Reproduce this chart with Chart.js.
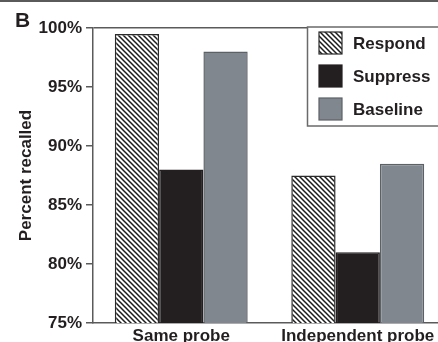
<!DOCTYPE html>
<html>
<head>
<meta charset="utf-8">
<script src="https://cdn.jsdelivr.net/npm/chart.js@4/dist/chart.umd.min.js"></script>
<style>
  html, body { margin: 0; padding: 0; background: #fff; overflow: hidden; }
  #frame { width: 438px; height: 342px; overflow: hidden; box-sizing: border-box; border-top: 2px solid #5a5a5a; }
  #holder { width: 446px; height: 360px; }
</style>
</head>
<body>
<div id="frame"><div id="holder"><canvas id="c" width="446" height="360"></canvas></div></div>
<script>
// Recall rates by probe type and condition
const categories = ['Same probe', 'Independent probe'];
const seriesNames = ['Respond', 'Suppress', 'Baseline'];
const respond = [99.5, 87.5];
const suppress = [88.0, 81.0];
const baseline = [98.0, 88.5];
const yTicks = [75, 80, 85, 90, 95, 100];
const panelLetter = 'B';
const yTitle = 'Percent recalled';

const INK = '#231f20';
const FONT = '"Liberation Sans", Arial, Helvetica, sans-serif';

const canvas = document.getElementById('c');
const ctx = canvas.getContext('2d');

// Diagonal hatch fill for the "Respond" bars
function makeHatch() {
  const s = 5;
  const t = document.createElement('canvas');
  t.width = s; t.height = s;
  const g = t.getContext('2d');
  g.fillStyle = '#ffffff';
  g.fillRect(0, 0, s, s);
  g.strokeStyle = '#1c1c1c';
  g.lineWidth = 1.5;
  g.beginPath();
  g.moveTo(-1, -1); g.lineTo(s + 1, s + 1);
  g.moveTo(-1, s - 1); g.lineTo(1, s + 1);
  g.moveTo(s - 1, -1); g.lineTo(s + 1, 1);
  g.stroke();
  return ctx.createPattern(t, 'repeat');
}

// Boxed legend in the upper right and the panel letter
const decorations = {
  id: 'decorations',
  afterDraw(chart) {
    const c = chart.ctx;
    c.save();
    // panel letter
    c.fillStyle = INK;
    c.font = 'bold 21px ' + FONT;
    c.textAlign = 'left';
    c.textBaseline = 'alphabetic';
    c.fillText(panelLetter, 15, 25);

    // legend box
    const bx = 307.5, by = 25, bw = 160, bh = 99;
    c.fillStyle = '#ffffff';
    c.fillRect(bx, by, bw, bh);
    c.strokeStyle = '#6a6a6a';
    c.lineWidth = 1.5;
    c.strokeRect(bx, by, bw, bh);

    c.font = 'bold 17px ' + FONT;
    c.textBaseline = 'middle';
    chart.data.datasets.forEach((ds, i) => {
      const sx = 319, sy = 30 + i * 33, sw = 23, sh = 22;
      c.fillStyle = ds.backgroundColor;
      c.fillRect(sx, sy, sw, sh);
      c.strokeStyle = ds.borderColor;
      c.lineWidth = 1.2;
      c.strokeRect(sx, sy, sw, sh);
      c.fillStyle = INK;
      c.fillText(ds.label, 353, sy + sh / 2 + 1);
    });
    c.restore();
  }
};

new Chart(ctx, {
  type: 'bar',
  data: {
    labels: categories,
    datasets: [
      { label: seriesNames[0], data: respond, backgroundColor: makeHatch(), borderColor: '#2a2a2a', borderWidth: 1.5 },
      { label: seriesNames[1], data: suppress, backgroundColor: '#231f20', borderColor: '#231f20', borderWidth: 1.5 },
      { label: seriesNames[2], data: baseline, backgroundColor: '#80878e', borderColor: '#5c6166', borderWidth: 1.5 }
    ]
  },
  options: {
    responsive: false,
    animation: false,
    devicePixelRatio: 1,
    layout: { padding: { top: 26, left: 0, right: 0, bottom: 0 } },
    datasets: { bar: { barPercentage: 1, categoryPercentage: 0.753 } },
    plugins: { legend: { display: false }, tooltip: { enabled: false } },
    scales: {
      x: {
        grid: { display: false, drawTicks: false },
        border: { display: true, color: '#5a5a5a', width: 1.5 },
        ticks: { color: INK, padding: 3, font: { family: FONT, size: 17, weight: 'bold' } },
        afterFit(scale) { scale.height = 39; }
      },
      y: {
        min: 75,
        max: 100,
        afterBuildTicks(scale) { scale.ticks = yTicks.map(v => ({ value: v })); },
        grid: {
          drawTicks: true,
          tickLength: 7,
          tickColor: '#5a5a5a',
          lineWidth: 1.5,
          color: c => (c.tick && c.tick.value === 100 ? '#5a5a5a' : 'rgba(0,0,0,0)')
        },
        border: { display: true, color: '#5a5a5a', width: 1.5 },
        ticks: {
          color: INK,
          padding: 4,
          font: { family: FONT, size: 17, weight: 'bold' },
          callback: v => v + '%'
        },
        title: {
          display: true,
          text: yTitle,
          color: INK,
          padding: { top: 16, bottom: 0 },
          font: { family: FONT, size: 17, weight: 'bold' }
        },
        afterFit(scale) { scale.width = 93; }
      }
    }
  },
  plugins: [decorations]
});
</script>
</body>
</html>
